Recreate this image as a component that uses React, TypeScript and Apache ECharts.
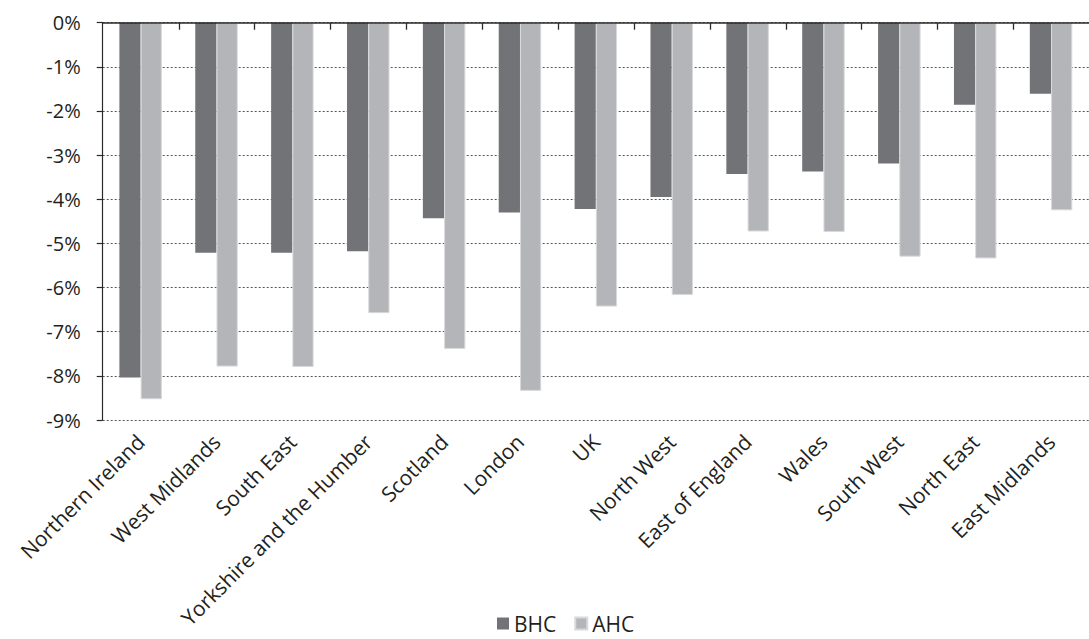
import React, { useEffect, useRef } from "react";
import * as echarts from "echarts";

const categories = [
  "Northern Ireland",
  "West Midlands",
  "South East",
  "Yorkshire and the Humber",
  "Scotland",
  "London",
  "UK",
  "North West",
  "East of England",
  "Wales",
  "South West",
  "North East",
  "East Midlands",
];
const bhc = [-8.04, -5.21, -5.21, -5.18, -4.43, -4.3, -4.22, -3.95, -3.43, -3.37, -3.19, -1.86, -1.61];
const ahc = [-8.53, -7.79, -7.8, -6.58, -7.39, -8.34, -6.43, -6.17, -4.73, -4.74, -5.3, -5.34, -4.25];
const seriesNames = ["BHC", "AHC"];

const FONT = "'Open Sans', 'Noto Sans', sans-serif";
const TEXT = "#231f20";
const AXIS = "#2a2a2a";

export default function App() {
  const ref = useRef<HTMLDivElement>(null);
  useEffect(() => {
    if (!ref.current) return;
    const chart = echarts.init(ref.current, undefined, { renderer: "svg" });
    chart.setOption({
      animation: false,
      backgroundColor: "#ffffff",
      grid: { left: 102.7, right: -10, top: 22.7, bottom: 219, containLabel: false },
      legend: {
        bottom: 0,
        left: 492,
        itemWidth: 12,
        itemHeight: 12,
        itemGap: 18,
        icon: "rect",
        textStyle: { fontFamily: FONT, fontSize: 21, color: TEXT },
        data: seriesNames,
      },
      xAxis: [
        {
          type: "category",
          data: categories,
          position: "bottom",
          axisLine: { show: false, onZero: false },
          axisTick: { show: false },
          axisLabel: {
            rotate: 45,
            interval: 0,
            margin: 18,
            fontFamily: FONT,
            fontSize: 21,
            color: TEXT,
          },
        },
        {
          type: "category",
          data: categories,
          position: "top",
          axisLine: { show: true, onZero: false, lineStyle: { color: AXIS, width: 1.5 } },
          axisTick: { show: false },
          axisLabel: { show: false },
          z: 10,
        },
      ],
      yAxis: {
        type: "value",
        min: -9,
        max: 0,
        interval: 1,
        axisLine: { show: true, lineStyle: { color: AXIS, width: 1.2 } },
        axisTick: { show: true, length: 6, lineStyle: { color: AXIS, width: 1.2 } },
        splitLine: { show: true, lineStyle: { color: "#555555", type: [2, 2], width: 1 } },
        axisLabel: {
          formatter: "{value}%",
          margin: 22,
          fontFamily: FONT,
          fontSize: 20,
          color: TEXT,
        },
      },
      series: [
        {
          name: seriesNames[0],
          type: "bar",
          data: bhc,
          xAxisIndex: 0,
          barGap: "0%",
          barCategoryGap: "44%",
          itemStyle: { color: "#727377" },
        },
        {
          name: seriesNames[1],
          type: "bar",
          data: ahc,
          xAxisIndex: 0,
          barGap: "0%",
          barCategoryGap: "44%",
          itemStyle: { color: "#b4b5b9", borderColor: "#d8d9db", borderWidth: 1 },
        },
        {
          name: "category-ticks",
          type: "custom",
          xAxisIndex: 0,
          silent: true,
          clip: false,
          z: 10,
          data: categories.map((_, i) => [i, 0]),
          renderItem: (params: any, api: any) => {
            const idx = api.value(0);
            if (idx === 0) return null;
            const p = api.coord([idx, 0]);
            const w = api.size([1, 0])[0];
            const x = Math.round(p[0] - w / 2) + 0.5;
            return {
              type: "line",
              shape: { x1: x, y1: p[1], x2: x, y2: p[1] + 7 },
              style: { stroke: AXIS, lineWidth: 1.3 },
            };
          },
        },
      ],
    });
    return () => chart.dispose();
  }, []);
  return (
    <div
      ref={ref}
      style={{ position: "fixed", left: 0, top: 0, width: 1089, height: 639 }}
    />
  );
}
